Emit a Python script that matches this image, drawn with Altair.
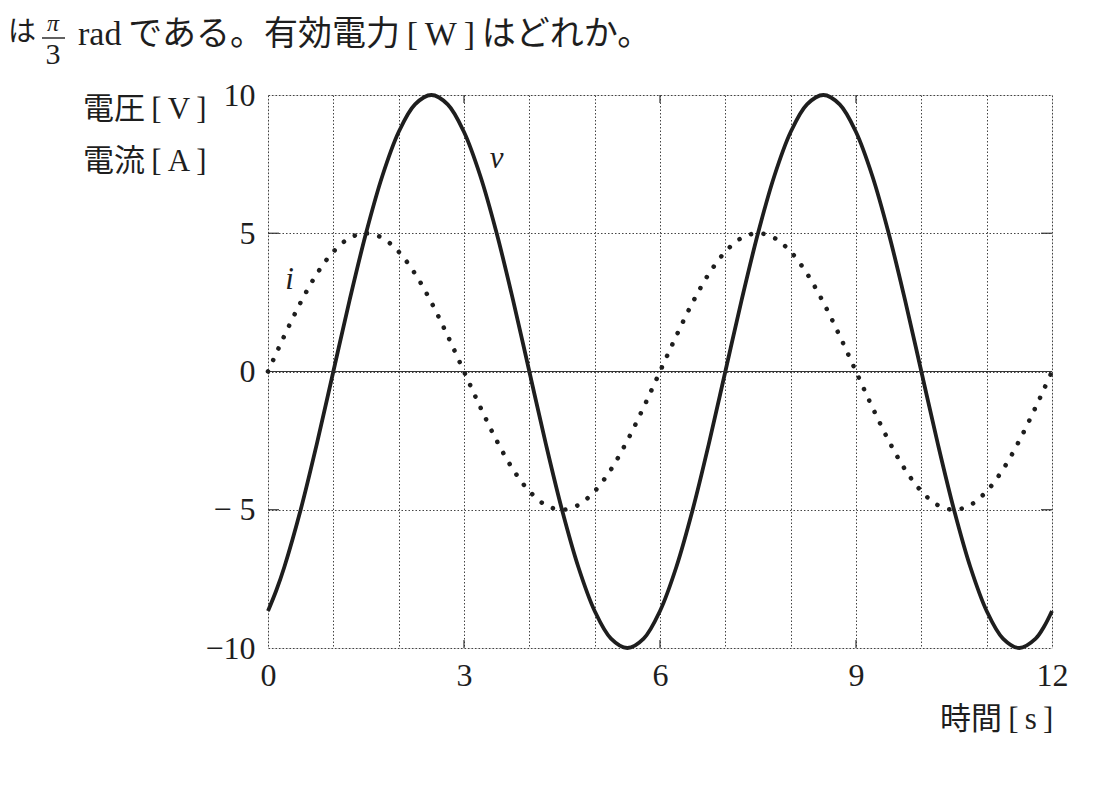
import altair as alt
import pandas as pd

# time axis samples [s]
times = [0, 0.125, 0.25, 0.5, 0.75, 1, 1.25, 1.5, 1.75, 2, 2.25, 2.5, 2.75, 3, 3.25, 3.5, 3.75,
         4, 4.25, 4.5, 4.75, 5, 5.25, 5.5, 5.75, 6, 6.25, 6.5, 6.75, 7, 7.25, 7.5, 7.75,
         8, 8.25, 8.5, 8.75, 9, 9.25, 9.5, 9.75, 10, 10.25, 10.5, 10.75, 11, 11.25, 11.5, 11.75, 11.875, 12]
# voltage v [V]
volt = [-8.66, -7.93, -7.07, -5.0, -2.59, 0, 2.59, 5.0, 7.07, 8.66, 9.66, 10, 9.66, 8.66, 7.07, 5.0, 2.59,
        0, -2.59, -5.0, -7.07, -8.66, -9.66, -10, -9.66, -8.66, -7.07, -5.0, -2.59, 0, 2.59, 5.0, 7.07,
        8.66, 9.66, 10, 9.66, 8.66, 7.07, 5.0, 2.59, 0, -2.59, -5.0, -7.07, -8.66, -9.66, -10, -9.66, -9.24, -8.66]
# current i [A]
curr = [0, 0.65, 1.29, 2.5, 3.54, 4.33, 4.83, 5, 4.83, 4.33, 3.54, 2.5, 1.29, 0, -1.29, -2.5, -3.54,
        -4.33, -4.83, -5, -4.83, -4.33, -3.54, -2.5, -1.29, 0, 1.29, 2.5, 3.54, 4.33, 4.83, 5, 4.83,
        4.33, 3.54, 2.5, 1.29, 0, -1.29, -2.5, -3.54, -4.33, -4.83, -5, -4.83, -4.33, -3.54, -2.5, -1.29, -0.65, 0]

x_ticks = list(range(0, 13))
y_ticks = [-10, -5, 0, 5, 10]
inner_x_ticks = [3, 6, 9]
inner_y_ticks = [-5, 5]

df = pd.DataFrame({"t": times, "v": volt, "i": curr})
one = pd.DataFrame({"a": [0]})

SERIF = "Liberation Serif, Noto Sans CJK JP"
INK = "#1e1e1e"
TS = "\u2009"

xs = alt.Scale(domain=[0, 12], nice=False, zero=False)
ys = alt.Scale(domain=[-10, 10], nice=False)

x_axis = alt.Axis(values=x_ticks, grid=True, gridDash=[1.5, 2], gridColor="#444", gridWidth=1,
                  ticks=False, domain=False, title=None, labelFont=SERIF, labelFontSize=32,
                  labelColor=INK, labelPadding=12, labelFlush=False, labelOverlap=False,
                  labelExpr="datum.value % 3 == 0 ? toString(datum.value) : ''")
y_axis = alt.Axis(values=y_ticks, grid=True, gridDash=[1.5, 2], gridColor="#444", gridWidth=1,
                  ticks=False, domain=False, title=None, labelFont=SERIF, labelFontSize=32,
                  labelColor=INK, labelPadding=13, labelFlush=False, labelOverlap=False,
                  labelExpr="datum.value == -5 ? '\u2212 5' : datum.value == -10 ? '\u221210' : toString(datum.value)")

base = alt.Chart(df)

v_line = base.mark_line(color=INK, strokeWidth=3.8, interpolate="catmull-rom").encode(
    x=alt.X("t:Q", scale=xs, axis=x_axis),
    y=alt.Y("v:Q", scale=ys, axis=y_axis),
)
i_line = base.mark_line(color=INK, strokeWidth=4.6, strokeDash=[0.01, 12.6], strokeCap="round",
                        interpolate="catmull-rom").encode(
    x=alt.X("t:Q", scale=xs),
    y=alt.Y("i:Q", scale=ys),
)

zero_rule = alt.Chart(pd.DataFrame({"y": [0]})).mark_rule(color="#333", strokeWidth=1.2).encode(
    y=alt.Y("y:Q", scale=ys))

tdf = pd.DataFrame({"t": inner_x_ticks})
tick_bottom = alt.Chart(tdf).mark_rule(color="#333", strokeWidth=1.2).encode(
    x=alt.X("t:Q", scale=xs), y=alt.value(553), y2=alt.value(545))
tick_top = alt.Chart(tdf).mark_rule(color="#333", strokeWidth=1.2).encode(
    x=alt.X("t:Q", scale=xs), y=alt.value(0), y2=alt.value(8))
ydf = pd.DataFrame({"y": inner_y_ticks})
tick_left = alt.Chart(ydf).mark_rule(color="#333", strokeWidth=1.2).encode(
    y=alt.Y("y:Q", scale=ys), x=alt.value(0), x2=alt.value(11))
tick_right = alt.Chart(ydf).mark_rule(color="#333", strokeWidth=1.2).encode(
    y=alt.Y("y:Q", scale=ys), x=alt.value(784), x2=alt.value(773))

# series labels
lab = pd.DataFrame({"t": [3.5, 0.33], "y": [7.7, 3.3], "s": ["v", "i"]})
series_labels = alt.Chart(lab).mark_text(font="Liberation Serif", fontStyle="italic", fontSize=31,
                                         color=INK).encode(
    x=alt.X("t:Q", scale=xs), y=alt.Y("y:Q", scale=ys), text="s:N")


def txt(s, x, y, size=31, align="left", style="normal", font=SERIF):
    return alt.Chart(one).mark_text(text=s, fontSize=size, align=align, baseline="middle",
                                    font=font, fontStyle=style, color=INK).encode(
        x=alt.value(x), y=alt.value(y))


texts = [
    txt("電圧" + TS + "[" + TS + "V" + TS + "]", -185, 15),
    txt("電流" + TS + "[" + TS + "A" + TS + "]", -185, 67),
    txt("時間" + TS + "[" + TS + "s" + TS + "]", 672, 625),
    txt("は", -260, -62, size=28),
    txt("π", -215, -71, size=24, align="center", style="italic", font="Liberation Serif"),
    txt("3", -215, -40, size=30, align="center", font="Liberation Serif"),
    txt("rad" + TS + "である。有効電力" + TS + "[" + TS + "W" + TS + "]" + TS + "はどれか。", -190, -60, size=34),
]
frac_bar = alt.Chart(one).mark_rule(color=INK, strokeWidth=1.4).encode(
    x=alt.value(-226), x2=alt.value(-203), y=alt.value(-57))

chart = alt.layer(
    v_line, zero_rule, tick_bottom, tick_top, tick_left, tick_right,
    i_line, series_labels, frac_bar, *texts
).properties(
    width=784, height=553,
    padding={"left": 260, "top": 87, "right": 40, "bottom": 130},
    autosize=alt.AutoSizeParams(type="none"),
).configure_view(stroke="#333", strokeWidth=1.4).configure(background="white")

chart.save("out.html", embed_options={"renderer": "svg", "actions": False})
